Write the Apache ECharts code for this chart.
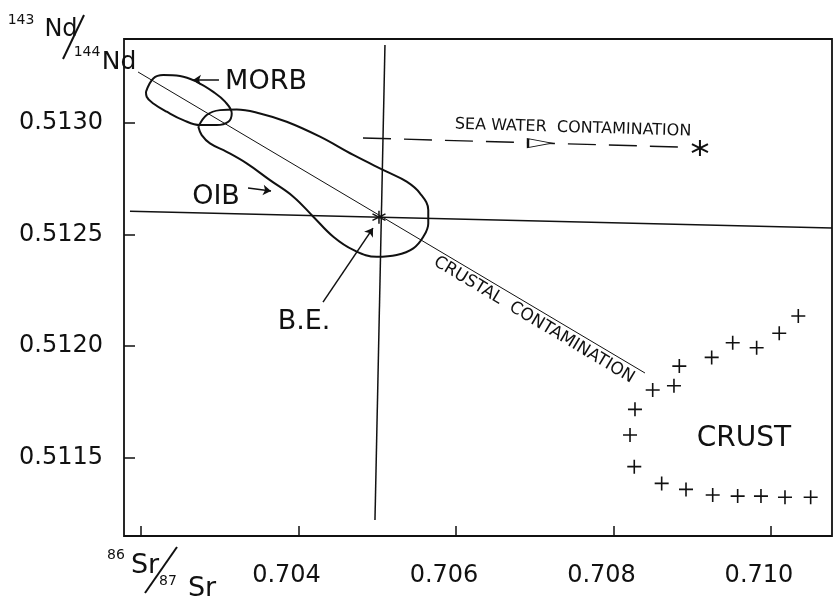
<!DOCTYPE html>
<html>
<head>
<meta charset="utf-8">
<script src="https://cdn.jsdelivr.net/npm/echarts@6/dist/echarts.min.js"></script>
<style>
  html, body { margin: 0; padding: 0; background: #fff; }
  #chart { width: 833px; height: 599px; }
</style>
</head>
<body>
<div id="chart"></div>
<script>
// ---- tick values ----
const xTickValues = [0.702, 0.704, 0.706, 0.708, 0.710];
const xLabelValues = [0.704, 0.706, 0.708, 0.710];
const yTickValues = [0.5115, 0.5120, 0.5125, 0.5130];

// ---- field outlines (Sr, Nd) ----
const morbOutline = [
  [0.702063, 0.513140], [0.702156, 0.513200], [0.702283, 0.513215], [0.702495, 0.513211],
  [0.702707, 0.513185], [0.702918, 0.513140], [0.703067, 0.513096], [0.703152, 0.513043],
  [0.703109, 0.513006], [0.702961, 0.512991], [0.702749, 0.512991], [0.702537, 0.513013],
  [0.702326, 0.513051], [0.702156, 0.513088], [0.702072, 0.513118], [0.702063, 0.513140]
];
const oibOutline = [
  [0.702728, 0.512983], [0.702834, 0.513036], [0.703003, 0.513058], [0.703215, 0.513061],
  [0.703511, 0.513043], [0.703850, 0.513006], [0.704273, 0.512939], [0.704696, 0.512857],
  [0.705120, 0.512782], [0.705374, 0.512737], [0.705543, 0.512685], [0.705648, 0.512610],
  [0.705648, 0.512550], [0.705585, 0.512490], [0.705458, 0.512438], [0.705247, 0.512408],
  [0.704993, 0.512400], [0.704696, 0.512431], [0.704442, 0.512490], [0.704188, 0.512580],
  [0.703934, 0.512670], [0.703638, 0.512744], [0.703342, 0.512819], [0.703088, 0.512871],
  [0.702876, 0.512909], [0.702771, 0.512946], [0.702728, 0.512983]
];

// ---- reference lines ----
const mixingLine = [[0.701962, 0.513229], [0.708400, 0.511879]];
const beHorizontal = [[0.701860, 0.512605], [0.710775, 0.512529]];
const beVertical = [[0.705098, 0.513350], [0.704971, 0.511220]];
const bulkEarth = [[0.705022, 0.512578]];
const seaWaterPath = [[0.704819, 0.512933], [0.708883, 0.512892]];
const seaWaterEnd = [[0.709098, 0.512888]];
const seaWaterArrowHead = [[0.707067, 0.512910]];

// ---- annotation arrows ----
const morbArrow = [[0.702990, 0.513193], [0.702660, 0.513193]];
const oibArrow = [[0.703359, 0.512709], [0.703651, 0.512695]];
const beArrow = [[0.704311, 0.512197], [0.704946, 0.512529]];

// ---- crustal samples ----
const crustPoints = [
  [0.710347, 0.512135], [0.710105, 0.512057], [0.709818, 0.511992], [0.709514, 0.512015],
  [0.709247, 0.511949], [0.708836, 0.511910], [0.708768, 0.511822], [0.708498, 0.511803],
  [0.708273, 0.511716], [0.708210, 0.511601], [0.708264, 0.511459], [0.708612, 0.511384],
  [0.708921, 0.511357], [0.709260, 0.511332], [0.709577, 0.511327], [0.709873, 0.511327],
  [0.710178, 0.511322], [0.710504, 0.511322]
];

const FONT = 'DejaVu Sans';
const INK = '#111';
const STAR = 'path://M0,-10L0,10M-8.66,-5L8.66,5M-8.66,5L8.66,-5';
const CROSS = 'path://M-10,0L10,0M0,-10L0,10';

function lineSeries(data, width, extra) {
  return Object.assign({
    type: 'line', data: data, symbol: 'none', showSymbol: false, silent: true,
    lineStyle: { color: INK, width: width }, z: 3
  }, extra || {});
}
function arrowSeries(data) {
  return {
    type: 'lines', coordinateSystem: 'cartesian2d', silent: true, z: 4,
    symbol: ['none', 'arrow'], symbolSize: 8,
    lineStyle: { color: INK, width: 1.5, opacity: 1 },
    data: [{ coords: data }]
  };
}
function txt(text, x, y, size, rot) {
  return { type: 'text', x: x, y: y, rotation: rot || 0, z: 10,
    style: { text: text, fontFamily: FONT, fontSize: size, fill: INK, align: 'center', verticalAlign: 'middle' } };
}
function seg(x1, y1, x2, y2) {
  return { type: 'line', z: 10, shape: { x1: x1, y1: y1, x2: x2, y2: y2 }, style: { stroke: INK, lineWidth: 2 } };
}

const chart = echarts.init(document.getElementById('chart'), null, { renderer: 'canvas' });
chart.setOption({
  animation: false,
  backgroundColor: '#fff',
  grid: { left: 124, right: 1, top: 39, bottom: 63, show: true, borderColor: INK, borderWidth: 1.8, backgroundColor: 'transparent' },
  xAxis: {
    type: 'value', min: 0.701784, max: 0.710775,
    axisLine: { show: false },
    splitLine: { show: false },
    axisTick: { show: true, inside: true, length: 10, customValues: xTickValues, lineStyle: { color: INK, width: 1.5 } },
    axisLabel: { customValues: xLabelValues, formatter: v => v.toFixed(3), fontFamily: FONT, fontSize: 24, color: INK, margin: 28, padding: [0, 24, 0, 0] }
  },
  yAxis: {
    type: 'value', min: 0.511148, max: 0.513377,
    axisLine: { show: false },
    splitLine: { show: false },
    axisTick: { show: true, inside: true, length: 11, customValues: yTickValues, lineStyle: { color: INK, width: 1.5 } },
    axisLabel: { customValues: yTickValues, formatter: v => v.toFixed(4), fontFamily: FONT, fontSize: 24, color: INK, margin: 21 }
  },
  series: [
    lineSeries(morbOutline, 2, { smooth: 0.4 }),
    lineSeries(oibOutline, 2, { smooth: 0.4 }),
    lineSeries(mixingLine, 1),
    lineSeries(beHorizontal, 1.5),
    lineSeries(beVertical, 1.5),
    lineSeries(seaWaterPath, 1.4, { lineStyle: { color: INK, width: 1.4, type: [28, 13] } }),
    arrowSeries(morbArrow),
    arrowSeries(oibArrow),
    arrowSeries(beArrow),
    { type: 'scatter', data: seaWaterArrowHead, symbol: 'triangle', symbolRotate: -90, symbolSize: [9, 24], silent: true, z: 5,
      itemStyle: { color: '#fff', borderColor: INK, borderWidth: 1.5, opacity: 1 } },
    { type: 'scatter', data: bulkEarth, symbol: STAR, symbolSize: 13, silent: true, z: 6,
      itemStyle: { color: 'transparent', borderColor: INK, borderWidth: 1.5, opacity: 1 } },
    { type: 'scatter', data: seaWaterEnd, symbol: STAR, symbolSize: 16, silent: true, z: 6,
      itemStyle: { color: 'transparent', borderColor: INK, borderWidth: 2, opacity: 1 } },
    { type: 'scatter', data: crustPoints, symbol: CROSS, symbolSize: 14, silent: true, z: 6,
      itemStyle: { color: 'transparent', borderColor: INK, borderWidth: 1.6, opacity: 1 } }
  ],
  graphic: [
    // y-axis title 143Nd/144Nd
    txt('143', 21, 20, 14),
    txt('Nd', 61, 30, 24),
    seg(63, 59, 84, 15),
    txt('144', 87, 52, 14),
    txt('Nd', 119, 62, 25),
    // x-axis title 86Sr/87Sr
    txt('86', 116, 555, 14),
    txt('Sr', 145, 566, 27),
    seg(145, 593, 177, 547),
    txt('87', 168, 581, 14),
    txt('Sr', 202, 589, 27),
    // annotations
    txt('MORB', 266, 82, 27),
    txt('OIB', 216, 197, 27),
    txt('B.E.', 304, 322, 27),
    txt('CRUST', 744, 439, 28),
    txt('SEA WATER  CONTAMINATION', 573, 128, 16, -0.03),
    txt('CRUSTAL  CONTAMINATION', 534, 320, 17, -0.54)
  ]
});
</script>
</body>
</html>
